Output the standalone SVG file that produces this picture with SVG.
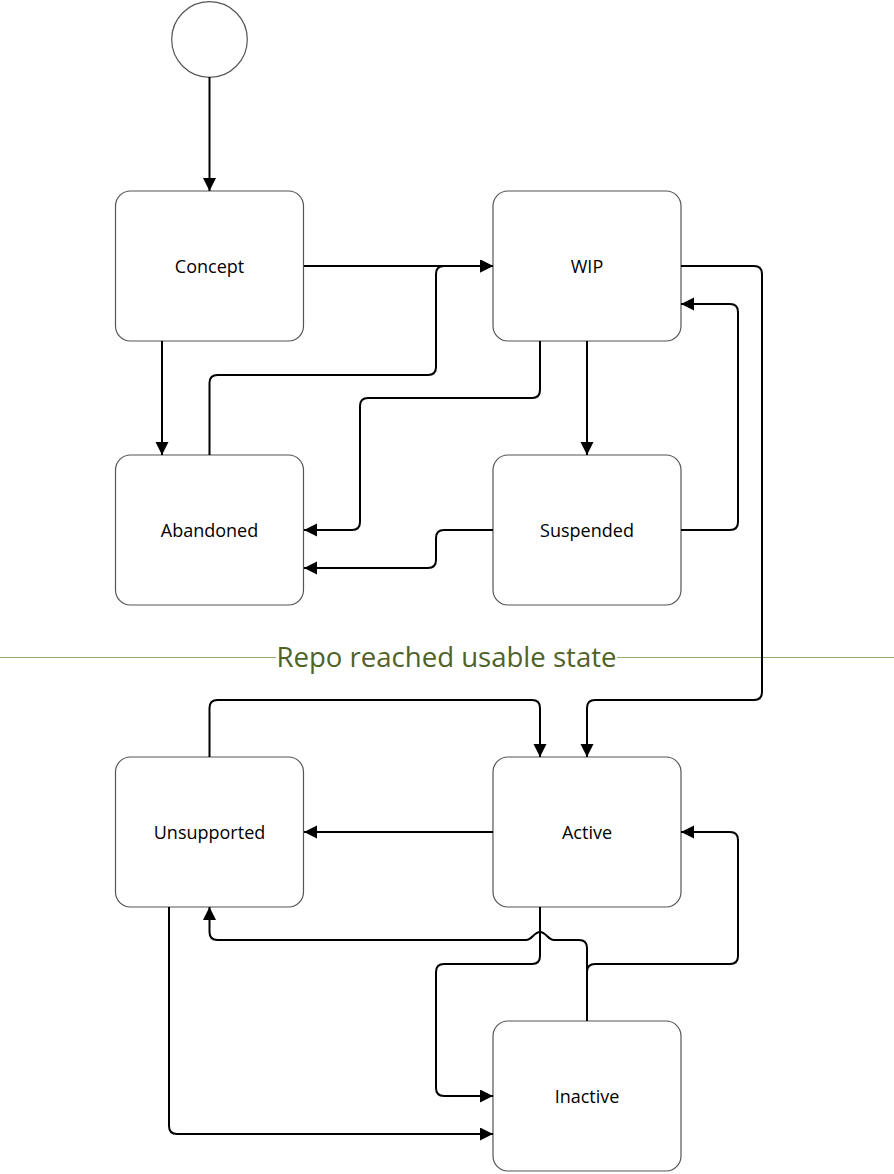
<svg xmlns="http://www.w3.org/2000/svg" width="894" height="1174" viewBox="0 0 894 1174">
<style>
.node rect{fill:#fff;stroke:#555;stroke-width:1.2}
.node text{font-family:"Open Sans","Noto Sans",sans-serif;font-size:18px;fill:#000;text-anchor:middle;dominant-baseline:central}
#connectors path{fill:none;stroke:#000;stroke-width:2}
.arr{marker-end:url(#ah)}
</style>
<defs>
<marker id="ah" markerUnits="userSpaceOnUse" markerWidth="14" markerHeight="14" refX="13" refY="6.5" orient="auto">
<path d="M0,0 L13,6.5 L0,13 z" fill="#000"/>
</marker>
</defs>
<rect width="894" height="1174" fill="#fff"/>
<g id="separator">
<line x1="0" y1="657.5" x2="276" y2="657.5" stroke="#94ad6c" stroke-width="1.2"/>
<line x1="617" y1="657.5" x2="894" y2="657.5" stroke="#94ad6c" stroke-width="1.2"/>
<text x="446.5" y="666.5" text-anchor="middle" font-family="Open Sans, Noto Sans, sans-serif" font-size="27" fill="#4f6228" textLength="340" lengthAdjust="spacingAndGlyphs">Repo reached usable state</text>
</g>
<g id="start" class="node"><circle cx="209.5" cy="39.5" r="37.8" fill="#fff" stroke="#555" stroke-width="1.2"/></g>
<g id="concept" class="node"><rect x="115.5" y="191" width="188" height="150" rx="15"/><text x="209.5" y="266">Concept</text></g>
<g id="wip" class="node"><rect x="493" y="191" width="188" height="150" rx="15"/><text x="587" y="266">WIP</text></g>
<g id="abandoned" class="node"><rect x="115.5" y="455" width="188" height="150" rx="15"/><text x="209.5" y="530">Abandoned</text></g>
<g id="suspended" class="node"><rect x="493" y="455" width="188" height="150" rx="15"/><text x="587" y="530">Suspended</text></g>
<g id="unsupported" class="node"><rect x="115.5" y="757" width="188" height="150" rx="15"/><text x="209.5" y="832">Unsupported</text></g>
<g id="active" class="node"><rect x="493" y="757" width="188" height="150" rx="15"/><text x="587" y="832">Active</text></g>
<g id="inactive" class="node"><rect x="493" y="1021" width="188" height="150" rx="15"/><text x="587" y="1096">Inactive</text></g>
<g id="connectors">
<path class="arr" d="M209.5,77 V191"/>
<path class="arr" d="M304,266 H493"/>
<path class="arr" d="M209.5,455 V383 Q209.5,375 217.5,375 H428 Q436,375 436,367 V274 Q436,266 444,266 H493"/>
<path class="arr" d="M162,341 V455"/>
<path class="arr" d="M540,341 V390 Q540,398 532,398 H368 Q360,398 360,406 V522 Q360,530 352,530 H304"/>
<path class="arr" d="M493,530 H444 Q436,530 436,538 V560 Q436,568 428,568 H304"/>
<path class="arr" d="M587,341 V455"/>
<path class="arr" d="M681,530 H730 Q738,530 738,522 V312 Q738,304 730,304 H681"/>
<path class="arr" d="M681,266 H754 Q762,266 762,274 V692 Q762,700 754,700 H595 Q587,700 587,708 V757"/>
<path class="arr" d="M209.5,757 V708 Q209.5,700 217.5,700 H532 Q540,700 540,708 V757"/>
<path class="arr" d="M493,832 H304"/>
<path class="arr" d="M540,907 V956 Q540,964 532,964 H444 Q436,964 436,972 V1088 Q436,1096 444,1096 H493"/>
<path class="arr" d="M587,1021 V972 Q587,964 595,964 H730 Q738,964 738,956 V840 Q738,832 730,832 H681"/>
<path class="arr" d="M587,1021 V948 Q587,940 579,940 H554 C548,940 546,932 540,932 C534,932 532,940 526,940 H217.5 Q209.5,940 209.5,932 V907"/>
<path class="arr" d="M169,907 V1126 Q169,1134 177,1134 H493"/>
</g>
</svg>
